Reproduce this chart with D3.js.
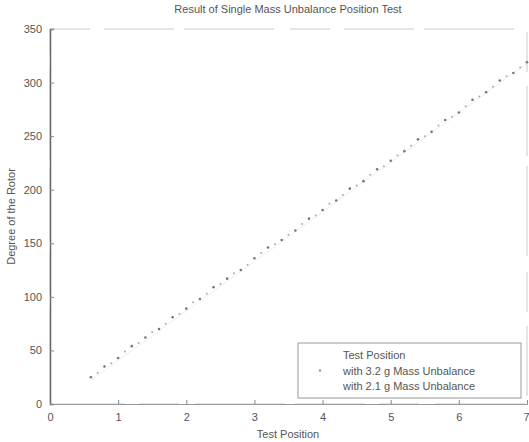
<!DOCTYPE html>
<html>
<head>
<meta charset="utf-8">
<script src="https://cdn.jsdelivr.net/npm/d3@7"></script>
<style>
  body { margin: 0; background: #fff; }
  text { font-family: "Liberation Sans", Arial, sans-serif; fill: #555; }
</style>
</head>
<body>
<div id="chart"></div>
<script>
// values
const xTicks = [0, 1, 2, 3, 4, 5, 6, 7];
const yTicks = [0, 50, 100, 150, 200, 250, 300, 350];

const testPos = [0.6, 7.0];
const testDeg = [22, 318];

const pos32 = [0.6, 0.8, 1.0, 1.2, 1.4, 1.6, 1.8, 2.0, 2.2, 2.4, 2.6, 2.8, 3.0, 3.2, 3.4, 3.6, 3.8,
               4.0, 4.2, 4.4, 4.6, 4.8, 5.0, 5.2, 5.4, 5.6, 5.8, 6.0, 6.2, 6.4, 6.6, 6.8, 7.0];
const deg32 = [25, 35, 43, 54, 62, 70, 81, 89, 98, 109, 117, 125, 136, 146, 153, 162, 173,
               181, 190, 201, 208, 219, 227, 236, 247, 254, 265, 272, 284, 291, 302, 309, 319];

const pos21 = [0.7, 0.9, 1.1, 1.3, 1.5, 1.7, 1.9, 2.1, 2.3, 2.5, 2.7, 2.9, 3.1, 3.3, 3.5, 3.7,
               3.9, 4.1, 4.3, 4.5, 4.7, 4.9, 5.1, 5.3, 5.5, 5.7, 5.9, 6.1, 6.3, 6.5, 6.7, 6.9];
const deg21 = [29, 38, 49, 57, 67, 75, 84, 95, 103, 112, 122, 130, 141, 149, 158, 168,
               176, 187, 195, 204, 214, 222, 232, 241, 250, 260, 268, 278, 287, 296, 306, 314];

const legendNames = ["Test Position", "with 3.2 g Mass Unbalance", "with 2.1 g Mass Unbalance"];

const width = 529, height = 442;
const margin = { left: 50, right: 2, top: 29, bottom: 38 };

const svg = d3.select("#chart").append("svg")
    .attr("width", width)
    .attr("height", height);

const x = d3.scaleLinear().domain([0, 7]).range([margin.left, width - margin.right]);
const y = d3.scaleLinear().domain([0, 350]).range([height - margin.bottom, margin.top]);

// frame (faint and broken like the scan)
svg.append("rect")
    .attr("x", x(0)).attr("y", y(350))
    .attr("width", x(7) - x(0)).attr("height", y(0) - y(350))
    .attr("fill", "none").attr("stroke", "#ccc").attr("stroke-width", 1)
    .attr("stroke-dasharray", "40,14,70,10,90,16");

// x axis
const xAxis = svg.append("g")
    .attr("transform", `translate(0,${y(0)})`)
    .call(d3.axisBottom(x).tickValues(xTicks).tickSize(-4).tickPadding(9).tickFormat(d3.format("d")));
xAxis.select(".domain").attr("stroke", "#999");
xAxis.selectAll(".tick line").attr("stroke", "#888");
xAxis.selectAll("text").attr("font-size", 11).attr("fill", "#555")
    .attr("text-anchor", d => d === 7 ? "end" : "middle")
    .attr("dx", d => d === 7 ? 2 : 0);

// y axis
const yAxis = svg.append("g")
    .attr("transform", `translate(${x(0)},0)`)
    .call(d3.axisLeft(y).tickValues(yTicks).tickSize(-4).tickPadding(8));
yAxis.select(".domain").attr("stroke", "#666").attr("stroke-width", 1.5);
yAxis.selectAll(".tick line").attr("stroke", "#888");
yAxis.selectAll("text").attr("font-size", 11).attr("fill", "#555");

// titles
svg.append("text")
    .attr("x", 288).attr("y", 13)
    .attr("text-anchor", "middle").attr("font-size", 11)
    .text("Result of Single Mass Unbalance Position Test");

svg.append("text")
    .attr("x", 288).attr("y", 438)
    .attr("text-anchor", "middle").attr("font-size", 11)
    .text("Test Position");

svg.append("text")
    .attr("transform", `translate(15,${(y(0) + y(350)) / 2}) rotate(-90)`)
    .attr("text-anchor", "middle").attr("font-size", 11)
    .text("Degree of the Rotor");

// test position reference
const line = d3.line().x(d => x(d[0])).y(d => y(d[1]));
svg.append("path")
    .datum(d3.zip(testPos, testDeg))
    .attr("d", line)
    .attr("fill", "none").attr("stroke", "#eee").attr("stroke-width", 1);

// series
svg.append("g").selectAll("circle")
    .data(d3.zip(pos21, deg21))
    .join("circle")
    .attr("cx", d => x(d[0])).attr("cy", d => y(d[1]))
    .attr("r", 1).attr("fill", "#aaa");

svg.append("g").selectAll("circle")
    .data(d3.zip(pos32, deg32))
    .join("circle")
    .attr("cx", d => x(d[0])).attr("cy", d => y(d[1]))
    .attr("r", 1.3).attr("fill", "#777");

// legend
const lg = svg.append("g");
lg.append("rect")
    .attr("x", 298).attr("y", 343).attr("width", 223).attr("height", 55)
    .attr("fill", "#fff").attr("stroke", "#999");
legendNames.forEach((name, i) => {
    const ly = 355 + i * 15.5;
    lg.append("text")
        .attr("x", 343).attr("y", ly + 4).attr("font-size", 11)
        .text(name);
    if (i === 1) {
        lg.append("circle").attr("cx", 320).attr("cy", ly).attr("r", 1.2).attr("fill", "#999");
    }
});
</script>
</body>
</html>
